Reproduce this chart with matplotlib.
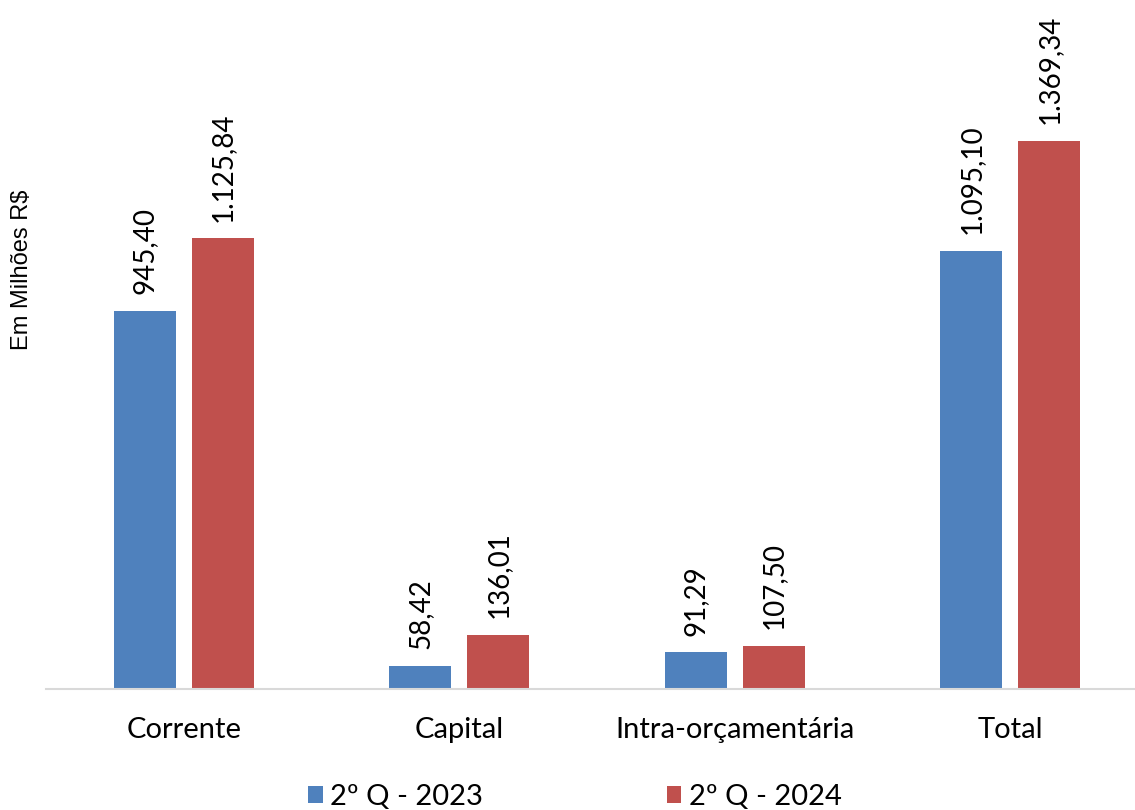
import numpy as np
import matplotlib.pyplot as plt

categorias = ['Corrente', 'Capital', 'Intra-orçamentária', 'Total']
q2_2023 = [945.40, 58.42, 91.29, 1095.10]
q2_2024 = [1125.84, 136.01, 107.50, 1369.34]
series_labels = ['2º Q - 2023', '2º Q - 2024']
cores = ['#4F81BD', '#C0504D']


def fmt_br(v):
    s = f'{v:,.2f}'
    return s.replace(',', 'X').replace('.', ',').replace('X', '.')


fig = plt.figure(figsize=(11.35, 8.1), dpi=100)
ax = fig.add_axes([46 / 1135, 121 / 810, 1102 / 1135, 689 / 810])

x = np.arange(len(categorias))
w = 0.225
off = 0.1416
b1 = ax.bar(x - off, q2_2023, w, color=cores[0], label=series_labels[0])
b2 = ax.bar(x + off, q2_2024, w, color=cores[1], label=series_labels[1])

for bars, vals in [(b1, q2_2023), (b2, q2_2024)]:
    for rect, v in zip(bars, vals):
        ax.annotate(fmt_br(v), (rect.get_x() + rect.get_width() / 2, v),
                    xytext=(0, 12), textcoords='offset points',
                    rotation=90, ha='center', va='bottom',
                    fontsize=20, family='Lato', color='#000000')

ax.set_xlim(-0.5, 3.5)
ax.set_ylim(0, 1721)
ax.set_xticks(x)
ax.set_xticklabels(categorias, fontsize=21, family='Lato')
ax.tick_params(axis='x', length=0, pad=20)
ax.set_yticks([])
for s in ['top', 'right', 'left']:
    ax.spines[s].set_visible(False)
ax.spines['bottom'].set_color('#D9D9D9')
ax.spines['bottom'].set_linewidth(1.5)

fig.text(22 / 1135, 1 - 270 / 810, 'Em Milhões R$', rotation=90,
         ha='center', va='center', fontsize=17, family='Liberation Sans')

fig.legend(handles=[b1, b2], loc='center', bbox_to_anchor=(575 / 1135, 13 / 810),
           ncol=2, frameon=False, prop={'family': 'Lato', 'size': 21},
           handlelength=0.5, handleheight=0.5, handletextpad=0.25,
           columnspacing=6.3)

fig.savefig('out.png', dpi=100)
